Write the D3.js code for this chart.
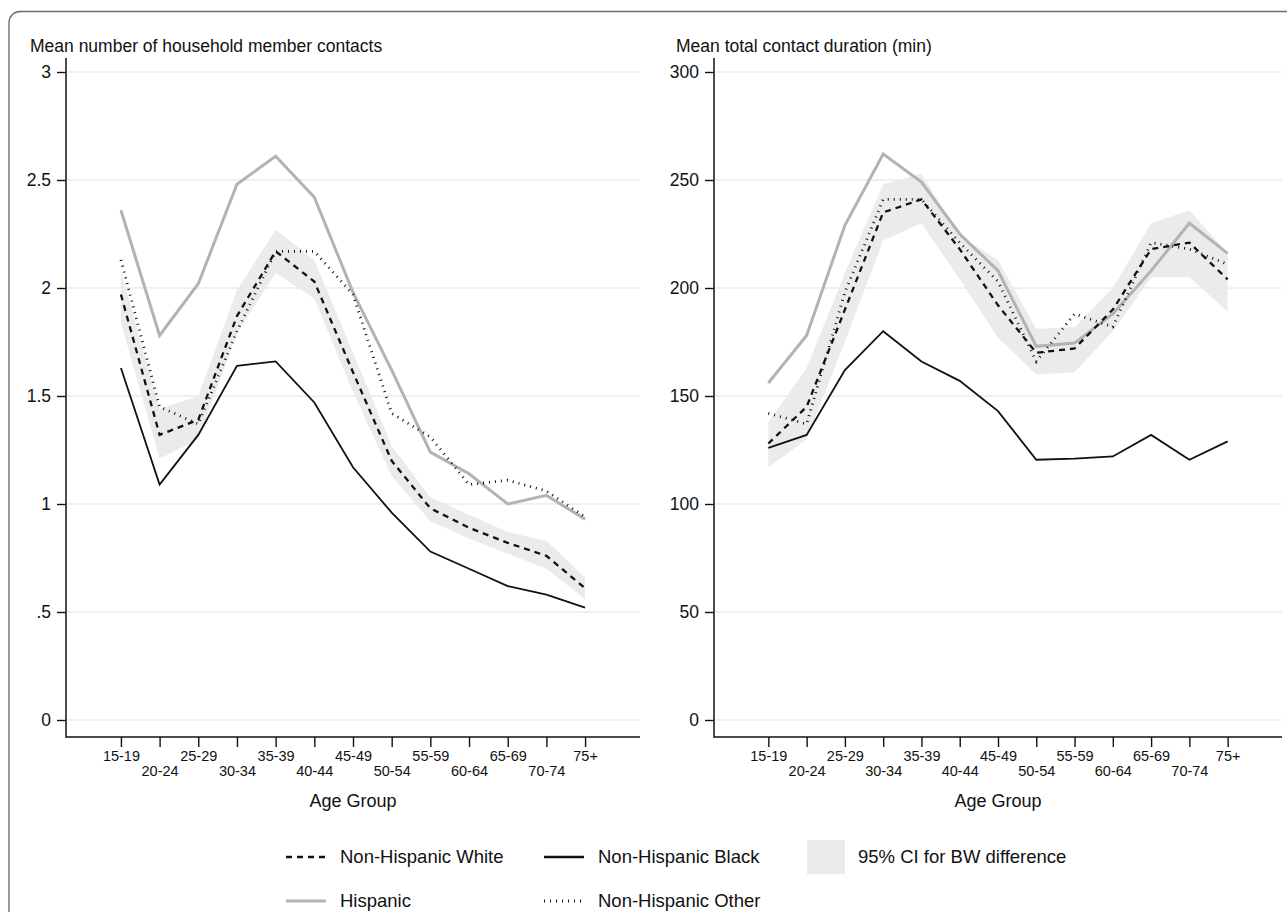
<!DOCTYPE html>
<html>
<head>
<meta charset="utf-8">
<script src="https://cdn.jsdelivr.net/npm/d3@7"></script>
<style>
  html, body { margin: 0; padding: 0; background: #fff; }
  svg { display: block; }
  text { font-family: "Liberation Sans", Arial, Helvetica, sans-serif; fill: #111; }
</style>
</head>
<body>
<svg id="chart" width="1287" height="912"></svg>
<script>
// ---------- DATA ----------
const ageGroups = ["15-19","20-24","25-29","30-34","35-39","40-44","45-49","50-54","55-59","60-64","65-69","70-74","75+"];

// Panel 1: Mean number of household member contacts
const contactsWhite    = [1.97, 1.32, 1.39, 1.87, 2.17, 2.03, 1.61, 1.20, 0.98, 0.89, 0.82, 0.76, 0.61];
const contactsBlack    = [1.63, 1.09, 1.32, 1.64, 1.66, 1.47, 1.17, 0.96, 0.78, 0.70, 0.62, 0.58, 0.52];
const contactsHispanic = [2.36, 1.78, 2.02, 2.48, 2.61, 2.42, 1.98, 1.62, 1.24, 1.14, 1.00, 1.04, 0.93];
const contactsOther    = [2.13, 1.45, 1.37, 1.80, 2.17, 2.17, 1.97, 1.42, 1.31, 1.09, 1.11, 1.06, 0.94];
const contactsCILow    = [1.84, 1.21, 1.30, 1.79, 2.07, 1.95, 1.52, 1.13, 0.92, 0.84, 0.77, 0.70, 0.56];
const contactsCIHigh   = [2.08, 1.44, 1.50, 1.99, 2.27, 2.13, 1.70, 1.27, 1.03, 0.95, 0.87, 0.83, 0.66];

// Panel 2: Mean total contact duration (min)
const durationWhite    = [128, 145, 190, 235, 241, 218, 192, 170, 172, 190, 218, 221, 204];
const durationBlack    = [126, 132, 162, 180, 166, 157, 143, 120.5, 121, 122, 132, 120.5, 129];
const durationHispanic = [156, 178, 229, 262, 249, 225, 208, 173, 174.5, 188, 208, 230, 216];
const durationOther    = [142, 137, 198, 241, 241, 221, 203, 166, 188, 182, 221, 218, 211];
const durationCILow    = [117, 130, 175, 222, 230, 204, 177, 160, 161, 180, 205, 205, 189];
const durationCIHigh   = [138, 163, 207, 248, 253, 224, 213, 181, 182, 200, 230, 236, 216];

const contactsTicks = [0, 0.5, 1, 1.5, 2, 2.5, 3];
const durationTicks = [0, 50, 100, 150, 200, 250, 300];

const panelTitles = ["Mean number of household member contacts", "Mean total contact duration (min)"];
const xAxisTitle = "Age Group";
const legendLabels = ["Non-Hispanic White", "Non-Hispanic Black", "95% CI for BW difference", "Hispanic", "Non-Hispanic Other"];

// ---------- STYLES ----------
const styles = {
  white:    { stroke: "#111", width: 2.3, dash: "6,5" },
  black:    { stroke: "#111", width: 1.8, dash: null },
  hispanic: { stroke: "#b3b3b3", width: 3, dash: null },
  other:    { stroke: "#111", width: 2.8, dash: "1,5" }
};
const bandFill = "#ebebeb";
const gridColor = "#ebebeb";
const FONT = '"Liberation Sans", Arial, sans-serif';

const svg = d3.select("#chart");

// outer frame
svg.append("rect")
  .attr("x", 9).attr("y", 11.5).attr("width", 1300).attr("height", 940)
  .attr("rx", 11).attr("ry", 11)
  .attr("fill", "none").attr("stroke", "#6d6d6d").attr("stroke-width", 1.4);

function drawPanel(cfg) {
  const g = svg.append("g");
  const x = d3.scalePoint().domain(ageGroups).range([cfg.left, cfg.right]).padding(1.42);
  const y = d3.scaleLinear().domain(cfg.domain).range([720, 72]);
  const axisY = 737, axisTop = 58;

  // gridlines
  g.selectAll(".grid").data(cfg.ticks).enter().append("line")
    .attr("x1", cfg.left + 1).attr("x2", cfg.right)
    .attr("y1", d => y(d)).attr("y2", d => y(d))
    .attr("stroke", gridColor).attr("stroke-width", 1.6);

  // y axis
  const yAxis = d3.axisLeft(y).tickValues(cfg.ticks).tickFormat(cfg.fmt).tickSize(9).tickPadding(6);
  const ya = g.append("g").attr("transform", `translate(${cfg.left},0)`).call(yAxis);
  ya.select(".domain").remove();
  ya.selectAll(".tick line").attr("stroke", "#111").attr("stroke-width", 1.4);
  ya.selectAll(".tick text").attr("font-size", 17.5).attr("fill", "#111").style("font-family", FONT);
  g.append("line").attr("x1", cfg.left).attr("x2", cfg.left).attr("y1", axisTop).attr("y2", axisY + 0.7)
    .attr("stroke", "#111").attr("stroke-width", 1.5);

  // x axis
  const xAxis = d3.axisBottom(x).tickSize(10).tickPadding(4);
  const xa = g.append("g").attr("transform", `translate(0,${axisY})`).call(xAxis);
  xa.select(".domain").remove();
  xa.selectAll(".tick line").attr("stroke", "#111").attr("stroke-width", 1.4);
  xa.selectAll(".tick text").attr("font-size", 14.5).attr("fill", "#111").style("font-family", FONT)
    .attr("dy", (d, i) => i % 2 === 0 ? "0.71em" : "1.75em");
  g.append("line").attr("x1", cfg.left).attr("x2", cfg.right).attr("y1", axisY).attr("y2", axisY)
    .attr("stroke", "#111").attr("stroke-width", 1.5);

  // x title
  g.append("text").attr("x", (cfg.left + cfg.right) / 2).attr("y", 807)
    .attr("text-anchor", "middle").attr("font-size", 18).text(xAxisTitle);

  // panel title
  g.append("text").attr("x", cfg.titleX).attr("y", 52).attr("font-size", 17.5).text(cfg.title);

  // CI band
  const idx = d3.range(ageGroups.length);
  const area = d3.area().x(i => x(ageGroups[i])).y0(i => y(cfg.lo[i])).y1(i => y(cfg.hi[i]));
  g.append("path").datum(idx).attr("d", area).attr("fill", bandFill).attr("stroke", "none");

  const line = vals => d3.line().x(i => x(ageGroups[i])).y(i => y(vals[i]))(idx);
  const order = [["hispanic", cfg.hispanic], ["black", cfg.black], ["white", cfg.white], ["other", cfg.other]];
  order.forEach(([k, vals]) => {
    const s = styles[k];
    g.append("path").attr("d", line(vals)).attr("fill", "none")
      .attr("stroke", s.stroke).attr("stroke-width", s.width)
      .attr("stroke-dasharray", s.dash).attr("stroke-linejoin", "miter");
  });
}

drawPanel({
  left: 66, right: 640, domain: [0, 3], ticks: contactsTicks,
  fmt: d => d === 0.5 ? ".5" : String(d),
  title: panelTitles[0], titleX: 30,
  white: contactsWhite, black: contactsBlack, hispanic: contactsHispanic, other: contactsOther,
  lo: contactsCILow, hi: contactsCIHigh
});
drawPanel({
  left: 714, right: 1282, domain: [0, 300], ticks: durationTicks,
  fmt: d => String(d),
  title: panelTitles[1], titleX: 676,
  white: durationWhite, black: durationBlack, hispanic: durationHispanic, other: durationOther,
  lo: durationCILow, hi: durationCIHigh
});

// ---------- LEGEND ----------
const leg = svg.append("g");
const legItems = [
  { type: "line", key: "white",    x: 286, y: 857, label: legendLabels[0] },
  { type: "line", key: "black",    x: 544, y: 857, label: legendLabels[1] },
  { type: "box",                   x: 807, y: 857, label: legendLabels[2] },
  { type: "line", key: "hispanic", x: 286, y: 901, label: legendLabels[3] },
  { type: "line", key: "other",    x: 544, y: 901, label: legendLabels[4] }
];
legItems.forEach(it => {
  if (it.type === "line") {
    const s = styles[it.key];
    leg.append("line").attr("x1", it.x).attr("x2", it.x + 40).attr("y1", it.y).attr("y2", it.y)
      .attr("stroke", s.stroke).attr("stroke-width", it.key === "black" ? 2.6 : (it.key === "white" ? 2.6 : s.width))
      .attr("stroke-dasharray", s.dash);
    leg.append("text").attr("x", it.x + 54).attr("y", it.y).attr("dy", "0.35em")
      .attr("font-size", 18.5).text(it.label);
  } else {
    leg.append("rect").attr("x", it.x).attr("y", it.y - 17).attr("width", 38).attr("height", 34)
      .attr("fill", bandFill);
    leg.append("text").attr("x", it.x + 51).attr("y", it.y).attr("dy", "0.35em")
      .attr("font-size", 18.5).text(it.label);
  }
});
</script>
</body>
</html>
